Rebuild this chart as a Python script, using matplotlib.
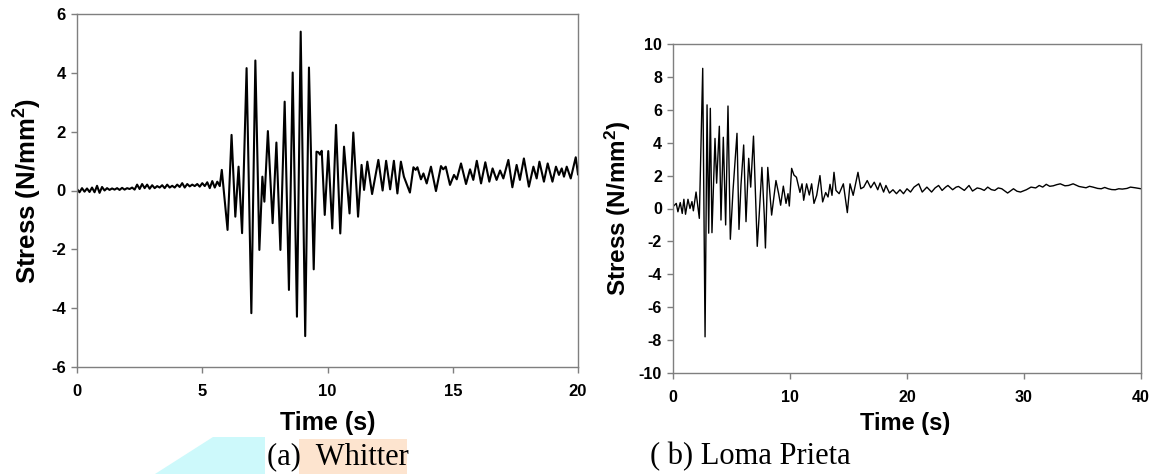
import matplotlib
matplotlib.use('Agg')
import matplotlib.pyplot as plt
from matplotlib.patches import Polygon

plt.rcParams['font.family'] = ['Liberation Sans', 'DejaVu Sans']
plt.rcParams['mathtext.fontset'] = 'custom'
plt.rcParams['mathtext.bf'] = 'Liberation Sans:bold'
plt.rcParams['mathtext.rm'] = 'Liberation Sans:bold'
plt.rcParams['mathtext.default'] = 'bf'
plt.rcParams['axes.unicode_minus'] = False

# (a) Whitter - stress time history
whitTime = [0.0, 0.1, 0.2, 0.3, 0.4, 0.5, 0.6, 0.7, 0.8, 0.9, 1.0, 1.1, 1.2, 1.3, 1.4, 1.5,
            1.6, 1.7, 1.8, 1.9, 2.0, 2.1, 2.2, 2.3, 2.4, 2.5, 2.6, 2.7, 2.8, 2.9, 3.0, 3.1,
            3.2, 3.3, 3.4, 3.5, 3.6, 3.7, 3.8, 3.9, 4.0, 4.1, 4.2, 4.3, 4.4, 4.5, 4.6, 4.7,
            4.8, 4.9, 5.0, 5.1, 5.2, 5.3, 5.4, 5.5, 5.6, 5.7,
            5.78, 6.01, 6.17, 6.32, 6.45, 6.59, 6.77, 6.96, 7.12, 7.28, 7.40, 7.48, 7.62,
            7.81, 7.96, 8.12, 8.29, 8.46, 8.61, 8.78, 8.93, 9.11, 9.26, 9.45, 9.56, 9.64,
            9.70, 9.77, 9.89, 10.03, 10.19, 10.34, 10.51, 10.66, 10.88, 11.03, 11.22, 11.36,
            11.46, 11.59, 11.78, 12.03, 12.20, 12.34, 12.50, 12.65, 12.79, 12.93, 13.05,
            13.29, 13.43, 13.52, 13.59, 13.73, 13.83, 13.96, 14.13, 14.33, 14.53, 14.62,
            14.72, 14.89, 15.05, 15.16, 15.33, 15.53, 15.69, 15.82, 15.96, 16.13, 16.30,
            16.46, 16.59, 16.75, 16.89, 17.02, 17.22, 17.38, 17.55, 17.68, 17.84, 18.04,
            18.22, 18.35, 18.46, 18.64, 18.79, 18.98, 19.12, 19.24, 19.35, 19.44, 19.55,
            19.71, 19.91, 20.0]
whitStress = [0.05, -0.06, 0.08, -0.04, 0.07, -0.05, 0.1, -0.06, 0.16, -0.08, 0.12, 0.0,
              0.08, 0.02, 0.07, 0.03, 0.08, 0.02, 0.09, 0.03, 0.08, 0.05, 0.1, 0.03, 0.2, 0.05,
              0.22, 0.08, 0.2, 0.06, 0.18, 0.08, 0.15, 0.1, 0.18, 0.08, 0.2, 0.1, 0.16, 0.1,
              0.2, 0.12, 0.25, 0.1, 0.22, 0.14, 0.2, 0.15, 0.22, 0.13, 0.25, 0.15, 0.28, 0.08,
              0.32, 0.1, 0.3, 0.15,
              0.70, -1.34, 1.89, -0.89, 0.81, -1.45, 4.16, -4.17, 4.42, -2.02, 0.47, -0.38,
              2.02, -1.11, 1.63, -2.02, 3.02, -3.38, 4.01, -4.29, 5.40, -4.95, 4.18, -2.68,
              1.32, 1.30, 1.22, 1.35, -0.83, 1.34, -1.29, 2.23, -1.46, 1.49, -0.78, 1.97,
              -0.89, 0.87, 0.02, 0.98, -0.12, 1.04, 0.0, 1.01, 0.04, 1.01, -0.10, 0.98, 0.47,
              -0.07, 0.79, 0.70, 0.79, 0.38, 0.58, 0.24, 0.81, -0.02, 0.83, 0.72, 0.81, 0.19,
              0.53, 0.38, 0.92, 0.22, 0.72, 0.36, 1.01, 0.24, 0.96, 0.30, 0.75, 0.36, 0.68,
              0.41, 1.04, 0.11, 0.87, 0.36, 1.09, 0.13, 0.81, 0.41, 0.98, 0.30, 0.92, 0.30,
              0.81, 0.53, 0.75, 0.47, 0.81, 0.41, 1.13, 0.55]

# (b) Loma Prieta
lomaTime = [0.0, 0.28, 0.42, 0.62, 0.79, 0.93, 1.07, 1.28, 1.45, 1.62, 1.74, 1.97, 2.25,
            2.54, 2.74, 2.91, 3.05, 3.19, 3.33, 3.59, 3.73, 3.96, 4.10, 4.30, 4.50, 4.70,
            4.90, 5.13, 5.47, 5.64, 5.81, 6.04, 6.24, 6.47, 6.64, 6.88, 7.20, 7.37, 7.60,
            7.80, 7.90, 8.10, 8.43, 8.80, 9.03, 9.20, 9.43, 9.66, 9.83, 9.94, 10.14, 10.34,
            10.55, 10.85, 11.03, 11.17, 11.42, 11.65, 11.85, 12.05, 12.28, 12.56, 12.79,
            13.05, 13.25, 13.42, 13.59, 13.76, 13.93, 14.2, 14.56, 14.9, 15.13, 15.4, 15.81,
            16.05, 16.3, 16.6, 16.9, 17.2, 17.5, 17.7, 18.0, 18.2, 18.5, 18.8, 19.1, 19.4,
            19.7, 20.0, 20.3, 20.6, 21.0, 21.3, 21.7, 22.1, 22.4, 22.7, 23.0, 23.3, 23.5,
            23.9, 24.2, 24.4, 24.9, 25.3, 25.6, 26.0, 26.3, 26.6, 26.9, 27.2, 27.5, 27.8,
            28.1, 28.6, 29.1, 29.4, 29.7, 30.2, 30.6, 31.0, 31.3, 31.6, 31.9, 32.2, 32.5,
            32.8, 33.1, 33.5, 33.8, 34.2, 34.7, 35.0, 35.3, 35.6, 35.9, 36.3, 36.6, 36.9,
            37.2, 37.5, 37.8, 38.1, 38.4, 38.8, 39.1, 39.5, 40.0]
lomaStress = [0.11, 0.31, -0.2, 0.36, -0.3, 0.56, -0.35, 0.56, 0.0, 0.42, -0.14, 1.0, -0.6,
              8.52, -7.8, 6.3, -1.5, 6.09, -1.47, 4.26, 1.54, 5.0, -0.7, 4.33, -1.0, 6.23,
              -1.87, 1.1, 4.57, -1.27, 1.43, 3.86, -0.8, 3.05, 1.3, 4.4, -2.3, -0.35, 2.5,
              -0.4, -2.4, 2.5, -0.4, 1.7, 0.9, 0.2, 1.36, 0.31, 0.9, 0.15, 2.44, 2.03, 1.9,
              0.98, 1.5, 0.5, 1.5, 0.82, 1.5, 0.31, 0.8, 2.0, 0.4, 0.97, 0.7, 1.47, 0.8, 2.2,
              1.1, 0.9, 1.5, -0.25, 1.5, 0.8, 2.2, 1.2, 1.3, 1.7, 1.26, 1.6, 1.14, 1.55, 1.0,
              1.4, 0.94, 1.14, 0.9, 1.14, 0.9, 1.2, 1.0, 1.3, 1.5, 1.0, 1.3, 1.0, 1.25, 1.4,
              1.1, 1.3, 1.4, 1.14, 1.3, 1.34, 1.1, 1.4, 1.06, 1.25, 1.2, 1.1, 1.3, 1.15, 1.1,
              1.25, 1.2, 0.94, 1.2, 1.05, 1.0, 1.14, 1.3, 1.25, 1.4, 1.3, 1.47, 1.35, 1.38,
              1.45, 1.5, 1.38, 1.4, 1.5, 1.34, 1.3, 1.26, 1.35, 1.3, 1.22, 1.2, 1.28, 1.2,
              1.15, 1.14, 1.2, 1.18, 1.22, 1.3, 1.26, 1.2]

W, H = 1151, 474
fig = plt.figure(figsize=(W / 100, H / 100), dpi=100)

def px_axes(x0, y0, x1, y1):
    return fig.add_axes([x0 / W, 1 - y1 / H, (x1 - x0) / W, (y1 - y0) / H])

def style(ax, fs):
    for s in ax.spines.values():
        s.set_color('#7f7f7f')
        s.set_linewidth(1.0)
    ax.tick_params(direction='out', length=4, width=1.0, color='#7f7f7f', labelsize=fs)
    ax.tick_params(axis='y', pad=4)
    ax.tick_params(axis='x', pad=8)
    for lab in ax.get_xticklabels() + ax.get_yticklabels():
        lab.set_fontweight('bold')

axA = px_axes(77, 14, 578, 367)
axA.plot(whitTime, whitStress, color='black', linewidth=1.5, solid_joinstyle='round')
axA.set_xlim(0, 20)
axA.set_ylim(-6, 6)
axA.set_xticks([0, 5, 10, 15, 20])
axA.set_yticks([-6, -4, -2, 0, 2, 4, 6])
style(axA, 12)
axA.set_xlabel('Time (s)', fontsize=18, fontweight='bold', va='center')
axA.set_ylabel(r'Stress (N/mm$^{2}$)', fontsize=18.5, fontweight='bold', va='center')
axA.xaxis.set_label_coords(0.501, -0.159)
axA.yaxis.set_label_coords(-0.098, 0.5)

axB = px_axes(673, 44, 1141, 373)
axB.plot(lomaTime, lomaStress, color='black', linewidth=1.0, solid_joinstyle='round')
axB.set_xlim(0, 40)
axB.set_ylim(-10, 10)
axB.set_xticks([0, 10, 20, 30, 40])
axB.set_yticks(list(range(-10, 11, 2)))
style(axB, 11.5)
axB.set_xlabel('Time (s)', fontsize=17, fontweight='bold', va='center')
axB.set_ylabel(r'Stress (N/mm$^{2}$)', fontsize=17.5, fontweight='bold', va='center')
axB.xaxis.set_label_coords(0.496, -0.152)
axB.yaxis.set_label_coords(-0.1175, 0.5)

# highlight blocks behind the first caption
cyan = Polygon([(155 / W, 0), (213 / W, 1 - 437 / H), (265 / W, 1 - 437 / H), (265 / W, 0)],
               closed=True, transform=fig.transFigure, facecolor='#cdf9fb', edgecolor='none', zorder=0)
peach = Polygon([(299 / W, 0), (299 / W, 1 - 439 / H), (407 / W, 1 - 439 / H), (407 / W, 0)],
                closed=True, transform=fig.transFigure, facecolor='#fde4cf', edgecolor='none', zorder=0)
fig.patches.extend([cyan, peach])

fig.text(267 / W, 1 - 457 / H, '(a)  Whitter', family='Liberation Serif', fontsize=22, va='center', ha='left')
fig.text(650 / W, 1 - 457 / H, '( b) Loma Prieta', family='Liberation Serif', fontsize=22, va='center', ha='left')

fig.savefig('out.png', dpi=100)
